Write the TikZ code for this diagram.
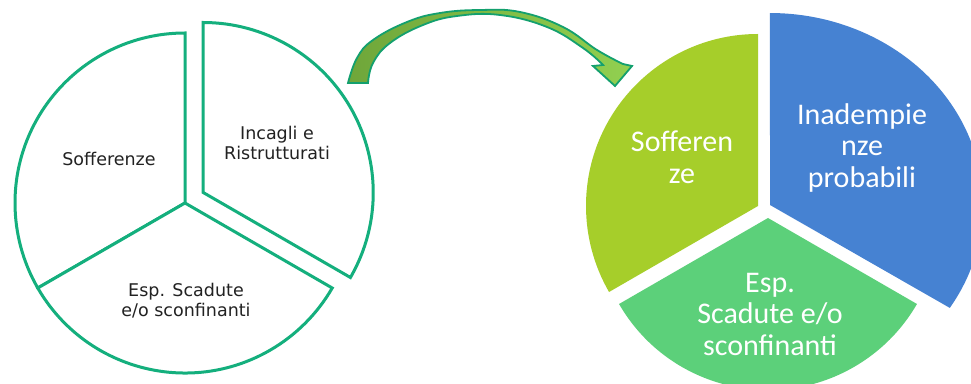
\documentclass[tikz,border=0pt]{standalone}
\usepackage{fontspec}
\setmainfont{DejaVu Sans}
\newfontfamily\calib{Carlito}
\definecolor{pieline}{HTML}{14AF7D}
\definecolor{textdark}{HTML}{222222}
\definecolor{cyellow}{HTML}{A6CE2A}
\definecolor{cblue}{HTML}{4682D2}
\definecolor{cgreen}{HTML}{5CD07A}
\definecolor{arrowline}{HTML}{13A06E}
\definecolor{arrowleft}{HTML}{6FA63A}
\definecolor{arrowright}{HTML}{92D050}
\begin{document}
\begin{tikzpicture}[x=1pt,y=1pt,
  outlineslice/.style={draw=pieline, line width=3pt, fill=white},
  lefttext/.style={font=\fontsize{17.5}{20}\selectfont, text=textdark, align=center, inner sep=0pt},
  righttext/.style={font=\calib\fontsize{30}{31.5}\selectfont, text=white, align=center, inner sep=0pt},
  blockarrow/.style={draw=arrowline, line width=1.8pt, line join=miter, left color=arrowleft, right color=arrowright}]
\useasboundingbox (0,0) rectangle (971,383);
\clip (0,0) rectangle (971,383);
\fill[white] (0,0) rectangle (971,383);

% left pie (outlined)
\coordinate (L) at (185,180);
\coordinate (LI) at (203.2,190.5);
\draw[outlineslice] (L) -- ++(90:170) arc[start angle=90,end angle=210,radius=170] -- cycle;
\draw[outlineslice] (L) -- ++(210:170) arc[start angle=210,end angle=330,radius=170] -- cycle;
\draw[outlineslice] (LI) -- ++(-30:170) arc[start angle=-30,end angle=90,radius=170] -- cycle;

\node[lefttext, anchor=base] (soff1) at (109,217) {Sofferenze};
\node[lefttext] (inc1) at (277,240.3) {Incagli e\\Ristrutturati};
\node[lefttext] (esp1) at (186,82) {Esp. Scadute\\e/o sconfinanti};

% right pie (filled)
\coordinate (RY) at (758,177);
\coordinate (RB) at (770,178);
\coordinate (RG) at (768,165);
\fill[cyellow] (RY) -- ++(90:172) arc[start angle=90,end angle=210,radius=172] -- cycle;
\fill[cblue] (RB) -- ++(179.8,-102.9) arc[start angle=-32.4,end angle=90,x radius=213,y radius=192] -- cycle;
\fill[cgreen] (RG) -- ++(210:172) arc[start angle=210,end angle=330,radius=172] -- cycle;

\node[righttext] (soff2) at (682,226) {Sofferen\\ze};
\node[righttext] (inad) at (862,235) {Inadempie\\nze\\probabili};
\node[righttext] (esp2) at (770,69) {Esp.\\Scadute e/o\\sconfinanti};

% curved block arrow
\path[blockarrow]
  plot[smooth, tension=0.7] coordinates {(348,300) (357,325) (373,343) (407,361) (440,370) (480,373) (520,371) (563,356) (597,333) (623,319)}
  -- (632,317) -- (615,297) -- (593,317)
  -- plot[smooth, tension=0.7] coordinates {(603,318) (583,335) (547,356) (500,368) (457,367) (423,358) (390,340) (373,320) (368,300)}
  -- cycle;
\end{tikzpicture}
\end{document}
